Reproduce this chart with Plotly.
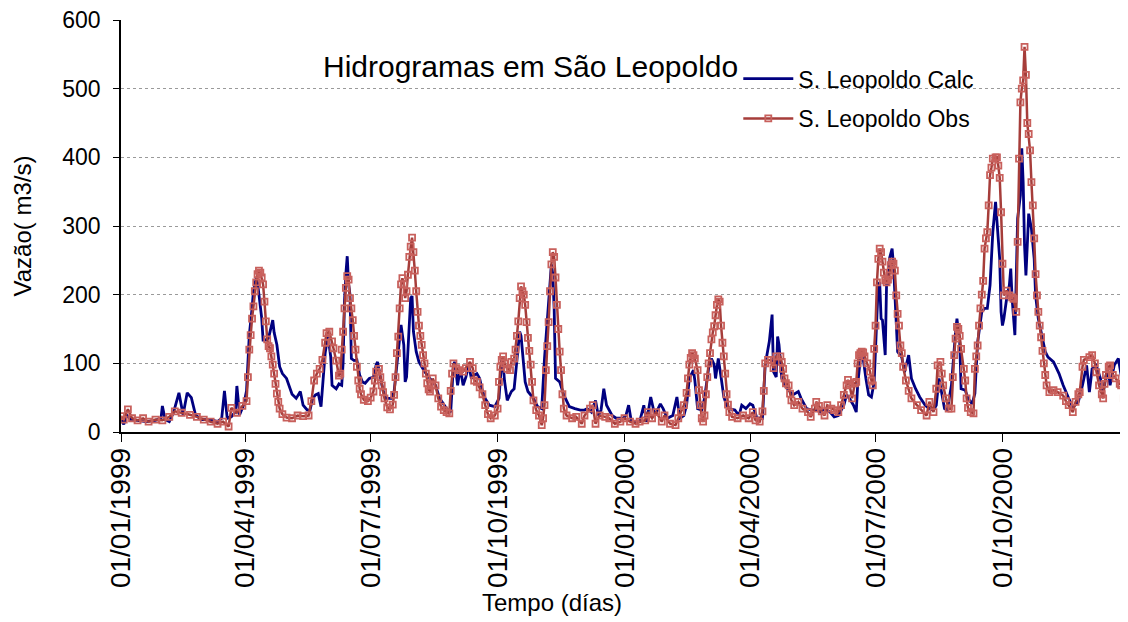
import pandas as pd
import plotly.graph_objects as go

# dias contados desde 01/01/1999
calc_dias = [0, 2, 4, 7, 12, 18, 25, 29, 30, 32, 35, 38, 42, 45, 48, 51, 54, 58, 65, 70, 73, 75, 77, 80, 83, 84, 86, 89,
             91, 92, 93, 95, 96, 98, 99, 100, 102, 103, 105, 107, 109, 110, 111, 113, 115, 117, 120, 124, 127, 130, 132,
             135, 137, 139, 141, 143, 145, 146, 148, 150, 152, 153, 156, 158, 160, 161, 162, 163, 164, 165, 166, 167, 169,
             171, 173, 175, 177, 180, 183, 185, 186, 188, 190, 192, 196, 198, 200, 202, 203, 205, 206, 207, 208, 209, 210,
             211, 212, 214, 216, 220, 224, 228, 231, 236, 239, 240, 241, 242, 244, 246, 248, 250, 252, 254, 256, 258, 260,
             262, 264, 267, 271, 274, 276, 277, 278, 280, 283, 285, 287, 288, 289, 290, 291, 292, 293, 295, 299, 302, 305,
             307, 309, 311, 312, 313, 314, 315, 318, 321, 325, 329, 333, 336, 338, 341, 344, 346, 348, 350, 352, 356, 359,
             364, 366, 368, 370, 376, 379, 381, 384, 387, 391, 393, 396, 400, 403, 405, 408, 410, 412, 415, 416, 418, 421,
             423, 426, 428, 430, 431, 433, 435, 437, 439, 441, 445, 448, 450, 453, 456, 458, 461, 465, 467, 470, 472, 473,
             475, 476, 477, 479, 481, 484, 487, 491, 493, 497, 501, 504, 507, 510, 514, 517, 520, 524, 526, 528, 531, 533,
             534, 536, 538, 540, 542, 544, 546, 548, 549, 550, 551, 552, 554, 555, 556, 557, 559, 560, 561, 562, 563, 566,
             568, 571, 573, 576, 579, 583, 586, 589, 591, 593, 595, 597, 599, 602, 605, 606, 608, 609, 612, 614, 617, 619,
             621, 624, 626, 628, 630, 632, 634, 635, 637, 638, 639, 640, 642, 644, 645, 646, 647, 648, 650, 652, 653, 654,
             655, 656, 657, 658, 660, 662, 663, 665, 667, 670, 672, 676, 680, 683, 687, 690, 694, 697, 700, 702, 704, 707,
             710, 712, 715, 717, 720, 723, 725, 727, 729, 730]
calc_vazao = [20, 11, 25, 18, 17, 15, 17, 20, 38, 18, 15, 28, 57, 25, 57, 50, 25, 18, 18, 15, 20, 60, 20, 22, 30, 67, 25, 40,
              60, 102, 141, 180, 205, 224, 217, 200, 166, 134, 134, 137, 155, 163, 145, 127, 95, 85, 78, 55, 49, 59, 39,
              32, 32, 49, 54, 56, 37, 60, 115, 141, 110, 68, 63, 70, 68, 100, 190, 230, 256, 215, 200, 107, 104,
              105, 83, 73, 71, 78, 80, 98, 102, 80, 60, 49, 49, 59, 98, 140, 156, 127, 73, 80, 117, 160, 195,
              198, 146, 117, 102, 88, 78, 68, 49, 34, 29, 75, 98, 102, 68, 93, 68, 80, 98, 78, 83, 85, 78,
              60, 49, 39, 37, 49, 105, 100, 75, 46, 59, 63, 100, 122, 146, 140, 117, 90, 73, 59, 49, 37, 34,
              107, 160, 215, 244, 230, 180, 78, 73, 54, 37, 34, 32, 32, 34, 29, 46, 24, 32, 63, 39, 24, 20,
              20, 24, 39, 15, 15, 39, 15, 51, 24, 41, 34, 20, 24, 51, 20, 24, 39, 78, 90, 75, 34, 32,
              49, 93, 107, 98, 78, 107, 80, 51, 39, 34, 32, 24, 39, 34, 41, 39, 20, 20, 98, 132, 171, 88,
              80, 139, 127, 78, 68, 61, 54, 59, 49, 34, 32, 32, 29, 34, 29, 22, 24, 39, 54, 49, 39, 29,
              68, 107, 107, 78, 54, 51, 73, 170, 214, 218, 165, 163, 112, 218, 214, 252, 267, 243, 204, 146, 117, 109,
              87, 112, 78, 63, 51, 39, 34, 32, 39, 78, 58, 34, 32, 68, 146, 165, 131, 63, 61, 49, 41, 56,
              131, 175, 180, 180, 214, 291, 335, 311, 252, 175, 155, 165, 194, 214, 238, 194, 160, 141, 311, 345, 413, 364,
              272, 228, 272, 318, 296, 252, 199, 165, 146, 117, 109, 102, 85, 68, 49, 36, 44, 68, 97, 58, 92, 97,
              78, 58, 92, 68, 97, 107, 83, 58, 87, 97]

obs_dias = [0, 2, 5, 8, 12, 16, 20, 25, 30, 35, 39, 44, 50, 55, 60, 65, 70, 74, 78, 80, 84, 88, 91, 92, 93, 94, 95, 96, 97,
            98, 99, 100, 101, 102, 103, 104, 105, 106, 107, 108, 109, 110, 111, 112, 113, 114, 115, 117, 120, 124, 128,
            132, 136, 138, 140, 142, 144, 146, 148, 149, 151, 153, 154, 156, 158, 159, 160, 161, 162, 163, 164, 165, 166,
            167, 168, 169, 170, 171, 172, 173, 174, 176, 179, 181, 183, 184, 185, 187, 188, 189, 190, 191, 193, 195, 197,
            198, 199, 200, 201, 202, 203, 204, 205, 206, 207, 208, 209, 210, 211, 212, 213, 214, 215, 216, 217, 218, 219,
            220, 221, 222, 223, 224, 225, 226, 228, 230, 232, 234, 236, 238, 239, 240, 241, 243, 245, 248, 250, 253, 255,
            256, 258, 260, 262, 264, 266, 268, 271, 273, 274, 275, 276, 277, 278, 280, 282, 283, 285, 286, 287, 288, 289,
            290, 291, 292, 293, 294, 295, 296, 297, 298, 299, 301, 303, 305, 306, 307, 308, 309, 310, 311, 312, 313, 314,
            315, 316, 317, 318, 319, 320, 321, 323, 327, 330, 334, 336, 340, 342, 344, 347, 351, 354, 358, 362, 365, 369,
            373, 376, 380, 382, 385, 388, 392, 394, 398, 402, 404, 406, 408, 410, 411, 412, 413, 414, 415, 416, 418, 419,
            420, 421, 422, 423, 424, 425, 426, 427, 428, 429, 430, 431, 432, 433, 434, 435, 436, 437, 438, 439, 440, 441,
            443, 447, 451, 455, 458, 460, 463, 465, 466, 467, 469, 471, 473, 475, 478, 479, 480, 481, 482, 484, 485, 486,
            488, 491, 494, 498, 500, 503, 504, 506, 508, 510, 512, 515, 517, 520, 522, 524, 526, 527, 528, 530, 532, 533,
            534, 535, 536, 537, 538, 539, 541, 543, 544, 545, 546, 547, 548, 549, 550, 551, 552, 553, 554, 555, 556, 557,
            558, 559, 560, 561, 562, 563, 564, 565, 566, 567, 569, 571, 573, 577, 580, 584, 586, 589, 591, 592, 594, 595,
            596, 598, 600, 602, 603, 604, 605, 606, 607, 608, 609, 611, 612, 613, 614, 616, 618, 619, 620, 621, 622, 623,
            624, 625, 626, 627, 628, 629, 630, 631, 632, 634, 635, 636, 637, 638, 639, 640, 642, 644, 646, 647, 649, 650,
            651, 652, 653, 654, 655, 656, 657, 658, 659, 660, 661, 662, 663, 664, 665, 666, 667, 668, 669, 670, 671, 673,
            676, 679, 683, 685, 687, 690, 692, 694, 695, 697, 698, 702, 704, 706, 707, 709, 711, 712, 713, 714, 716, 717,
            719, 721, 724, 725, 727, 730]
obs_vazao = [23, 18, 33, 20, 17, 20, 15, 18, 17, 22, 30, 28, 25, 22, 18, 15, 12, 15, 8, 35, 28, 38, 45, 80, 120, 141, 165,
             183, 205, 218, 230, 235, 232, 225, 215, 190, 161, 135, 125, 122, 110, 98, 85, 70, 56, 44, 34, 26, 21, 20, 24,
             23, 24, 45, 75, 85, 92, 105, 130, 144, 146, 132, 122, 104, 82, 85, 120, 146, 180, 210, 227, 222, 195,
             180, 163, 140, 120, 95, 75, 63, 55, 47, 45, 50, 59, 75, 88, 92, 80, 68, 58, 49, 36, 33, 40,
             54, 80, 115, 139, 180, 215, 224, 215, 195, 205, 229, 255, 270, 283, 262, 235, 205, 175, 155, 140, 127, 112,
             100, 85, 71, 62, 59, 68, 78, 68, 49, 37, 32, 29, 27, 60, 85, 100, 93, 90, 88, 93, 102, 93,
             75, 73, 65, 55, 39, 26, 20, 24, 34, 73, 95, 105, 110, 100, 92, 90, 102, 107, 120, 140, 161, 195,
             212, 205, 200, 185, 160, 137, 118, 98, 73, 46, 32, 24, 10, 20, 39, 90, 125, 160, 205, 244, 262, 255,
             225, 185, 150, 117, 90, 55, 34, 24, 20, 22, 12, 24, 34, 39, 12, 24, 22, 20, 12, 15, 20, 15,
             12, 15, 17, 29, 20, 29, 15, 24, 12, 10, 20, 29, 39, 57, 78, 98, 108, 115, 112, 107, 90, 61,
             39, 20, 15, 24, 55, 80, 100, 115, 135, 145, 154, 170, 185, 193, 190, 155, 130, 110, 85, 55, 40, 29,
             22, 20, 24, 20, 29, 17, 15, 30, 60, 100, 105, 105, 93, 110, 110, 102, 92, 78, 71, 68, 56, 46,
             39, 44, 34, 29, 22, 34, 44, 38, 30, 24, 39, 34, 32, 29, 39, 54, 68, 76, 70, 49, 71, 73,
             100, 112, 115, 117, 116, 110, 100, 88, 75, 68, 121, 155, 218, 252, 267, 262, 248, 232, 221, 218, 222, 228,
             243, 248, 245, 235, 199, 172, 155, 126, 115, 95, 75, 60, 49, 39, 32, 24, 44, 29, 63, 97, 102, 85,
             68, 49, 34, 34, 80, 112, 136, 153, 150, 140, 121, 92, 75, 49, 35, 29, 27, 92, 110, 126, 155, 180,
             200, 220, 267, 282, 291, 330, 374, 385, 398, 400, 400, 388, 370, 320, 245, 199, 206, 199, 196, 194, 175, 277,
             398, 480, 500, 512, 561, 520, 450, 434, 410, 364, 330, 282, 230, 199, 175, 155, 138, 118, 100, 83, 68, 58,
             61, 58, 53, 45, 39, 29, 44, 55, 58, 95, 105, 109, 112, 100, 87, 68, 55, 49, 70, 83, 95, 97,
             83, 78, 70, 68, 49, 53]

marcas_x = ["1999-01-01", "1999-04-01", "1999-07-01", "1999-10-01",
            "2000-01-01", "2000-04-01", "2000-07-01", "2000-10-01"]
marcas_texto = ["01/01/1999", "01/04/1999", "01/07/1999", "01/10/1999",
                "01/01/2000", "01/04/2000", "01/07/2000", "01/10/2000"]

inicio = pd.Timestamp("1999-01-01")
calc_datas = inicio + pd.to_timedelta(calc_dias, unit="D")
obs_datas = inicio + pd.to_timedelta(obs_dias, unit="D")

fonte = "Liberation Sans, Arial, sans-serif"

fig = go.Figure()
fig.add_trace(go.Scatter(x=calc_datas, y=calc_vazao, mode="lines", name="S. Leopoldo Calc",
                         line=dict(color="#000080", width=2.8), legendgroup="calc"))
fig.add_trace(go.Scatter(x=obs_datas, y=obs_vazao, mode="lines+markers", name="S. Leopoldo Obs",
                         line=dict(color="#A63D3A", width=2.5),
                         marker=dict(symbol="square-open", size=6, color="#C8605C", line=dict(width=1.8)),
                         legendgroup="obs"))

# titulo dentro da area do grafico
fig.add_annotation(text="Hidrogramas em São Leopoldo", xref="paper", yref="paper",
                   x=0.407, y=0.888, xanchor="center", yanchor="middle", showarrow=False,
                   font=dict(size=30, color="black", family=fonte))
fig.add_annotation(text="Tempo (días)", xref="paper", yref="paper",
                   x=0.428, y=-0.415, xanchor="center", yanchor="middle", showarrow=False,
                   font=dict(size=24, color="black", family=fonte))

# a pagina tem 8 px de margem no body: figura um pouco menor
fig.update_layout(
    width=1120, height=614,
    margin=dict(l=113, r=0, t=12, b=190),
    paper_bgcolor="white", plot_bgcolor="white",
    font=dict(family=fonte, size=20, color="black"),
    showlegend=True,
    legend=dict(x=0.613, y=0.91, xanchor="left", yanchor="top", bgcolor="rgba(0,0,0,0)",
                font=dict(size=23), itemwidth=50, traceorder="grouped", tracegroupgap=7),
    xaxis=dict(range=["1999-01-01", "2000-12-31"], tickvals=marcas_x, ticktext=marcas_texto,
               tickangle=-90, ticks="outside", ticklen=8, tickcolor="black", automargin=False,
               showline=True, linecolor="black", linewidth=1.5, showgrid=False, zeroline=False,
               tickfont=dict(size=28), ticklabelstandoff=-5, ticklabeloverflow="allow"),
    yaxis=dict(range=[0, 600], dtick=100, ticks="outside", ticklen=6, tickcolor="black", automargin=False,
               showline=True, linecolor="black", linewidth=1.5,
               showgrid=True, gridcolor="#9a9a9a", griddash="dot", gridwidth=1, zeroline=False,
               title=dict(text="Vazão( m3/s)", font=dict(size=24), standoff=24),
               tickfont=dict(size=23), ticklabelstandoff=8, ticklabeloverflow="allow"),
)

fig.write_html("out.html")
